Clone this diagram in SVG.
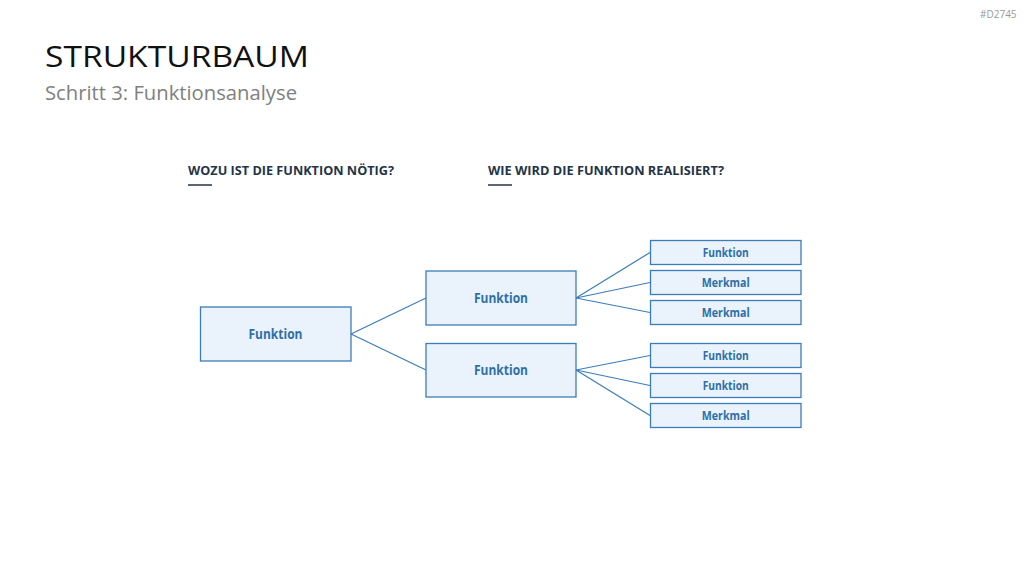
<svg xmlns="http://www.w3.org/2000/svg" width="1024" height="576" viewBox="0 0 1024 576">
<style>
.box{fill:#eaf3fb;stroke:#3b7dbb;stroke-width:1.3}
.lbl{font-family:"Open Sans","Liberation Sans",sans-serif;font-weight:bold;fill:#2f6fa8;text-anchor:middle}
.big{font-size:14.5px}
.small{font-size:12.3px}
.hdr{font-family:"Open Sans","Liberation Sans",sans-serif;font-weight:bold;font-size:13px;fill:#243447}
.conn line{stroke:#3b7dbb;stroke-width:1.2}
</style>
<rect width="1024" height="576" fill="#ffffff"/>
<text x="980" y="18" font-family="Open Sans, Liberation Sans, sans-serif" font-size="10" fill="#9a9a9a">#D2745</text>
<text x="45" y="67" font-family="Open Sans, Liberation Sans, sans-serif" font-size="30" fill="#111111" textLength="264" lengthAdjust="spacingAndGlyphs">STRUKTURBAUM</text>
<text x="45" y="100" font-family="Open Sans, Liberation Sans, sans-serif" font-size="20" fill="#808080" textLength="252" lengthAdjust="spacingAndGlyphs">Schritt 3: Funktionsanalyse</text>
<g id="header1">
<text class="hdr" x="188" y="175" textLength="206" lengthAdjust="spacingAndGlyphs">WOZU IST DIE FUNKTION NÖTIG?</text>
<line x1="188" y1="185" x2="212" y2="185" stroke="#243447" stroke-width="1.5"/>
</g>
<g id="header2">
<text class="hdr" x="488" y="175" textLength="236" lengthAdjust="spacingAndGlyphs">WIE WIRD DIE FUNKTION REALISIERT?</text>
<line x1="488" y1="185" x2="512" y2="185" stroke="#243447" stroke-width="1.5"/>
</g>
<g id="connectors" class="conn">
<line x1="351" y1="334" x2="426" y2="298"/>
<line x1="351" y1="334" x2="426" y2="370"/>
<line x1="576" y1="298" x2="650" y2="252.5"/>
<line x1="576" y1="298" x2="650" y2="282.5"/>
<line x1="576" y1="298" x2="650" y2="312.5"/>
<line x1="576" y1="370" x2="650" y2="355.5"/>
<line x1="576" y1="370" x2="650" y2="385.5"/>
<line x1="576" y1="370" x2="650" y2="415.5"/>
</g>
<g id="root"><rect class="box" x="200.5" y="307" width="150.5" height="54"/><text class="lbl big" x="275.5" y="339" textLength="54" lengthAdjust="spacingAndGlyphs">Funktion</text></g>
<g id="mid1"><rect class="box" x="426" y="271" width="150" height="54"/><text class="lbl big" x="501" y="303" textLength="54" lengthAdjust="spacingAndGlyphs">Funktion</text></g>
<g id="mid2"><rect class="box" x="426" y="343.5" width="150" height="53.5"/><text class="lbl big" x="501" y="375" textLength="54" lengthAdjust="spacingAndGlyphs">Funktion</text></g>
<g id="leaf1"><rect class="box" x="650.5" y="240.5" width="150.5" height="24"/><text class="lbl small" x="725.7" y="256.5" textLength="46" lengthAdjust="spacingAndGlyphs">Funktion</text></g>
<g id="leaf2"><rect class="box" x="650.5" y="270.5" width="150.5" height="24"/><text class="lbl small" x="725.7" y="286.5" textLength="48" lengthAdjust="spacingAndGlyphs">Merkmal</text></g>
<g id="leaf3"><rect class="box" x="650.5" y="300.5" width="150.5" height="24"/><text class="lbl small" x="725.7" y="316.5" textLength="48" lengthAdjust="spacingAndGlyphs">Merkmal</text></g>
<g id="leaf4"><rect class="box" x="650.5" y="343.5" width="150.5" height="24"/><text class="lbl small" x="725.7" y="359.5" textLength="46" lengthAdjust="spacingAndGlyphs">Funktion</text></g>
<g id="leaf5"><rect class="box" x="650.5" y="373.5" width="150.5" height="24"/><text class="lbl small" x="725.7" y="389.5" textLength="46" lengthAdjust="spacingAndGlyphs">Funktion</text></g>
<g id="leaf6"><rect class="box" x="650.5" y="403.5" width="150.5" height="24"/><text class="lbl small" x="725.7" y="419.5" textLength="48" lengthAdjust="spacingAndGlyphs">Merkmal</text></g>
</svg>
